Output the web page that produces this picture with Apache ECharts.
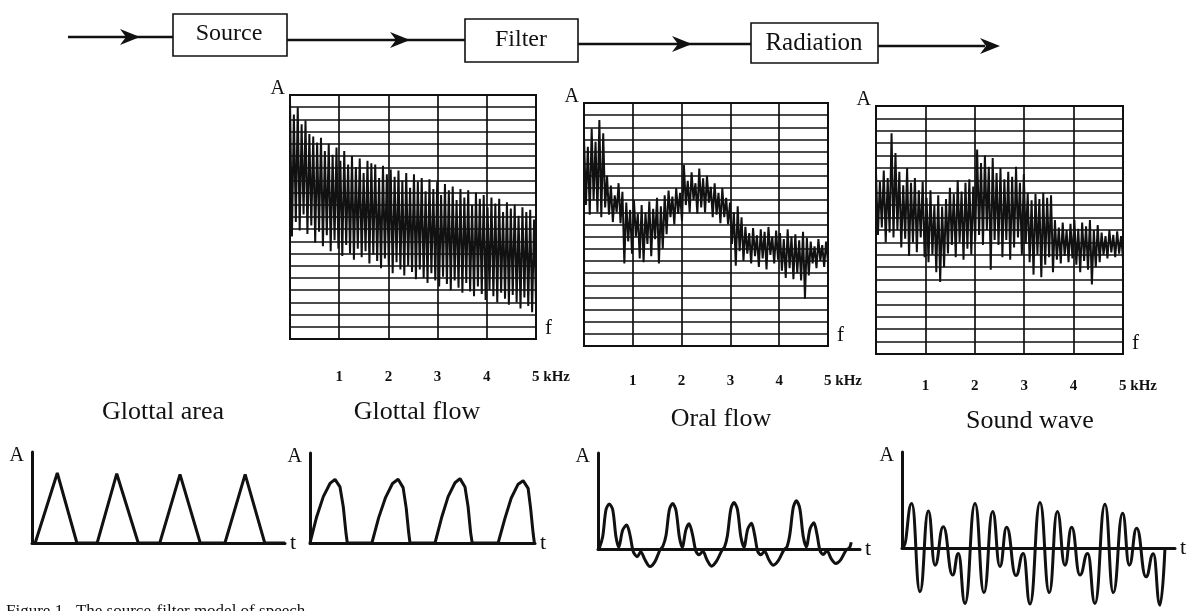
<!DOCTYPE html>
<html>
<head>
<meta charset="utf-8">
<script src="https://cdn.jsdelivr.net/npm/echarts@6/dist/echarts.min.js"></script>
<style>
html, body { margin: 0; padding: 0; background: #fff; }
#chart { width: 1196px; height: 611px; }
</style>
</head>
<body>
<div id="chart"></div>
<script>
// =====================================================
// DATA
// =====================================================

// spectra: rows above the bottom of each panel (grid has 20 rows), one peak + one dip per harmonic
const freqTicks = [1, 2, 3, 4, 5];

const sourcePeaks = [19.6, 18.4, 19.0, 17.6, 17.9, 16.8, 16.6, 16.1, 16.5, 15.4,
    16.0, 15.1, 15.7, 14.6, 15.4, 14.3, 15.0, 14.1, 14.8, 13.6,
    14.6, 14.4, 14.3, 13.2, 14.2, 13.5, 13.9, 13.3, 13.8, 13.0,
    13.6, 12.4, 13.5, 12.9, 13.2, 12.1, 13.1, 12.3, 12.9, 11.8,
    12.7, 12.2, 12.5, 11.4, 12.3, 11.6, 12.2, 11.0, 12.0, 11.5,
    11.8, 10.8, 11.6, 11.1, 11.5, 10.4, 11.2, 10.7, 11.0, 10.1,
    10.8, 10.4, 10.6, 9.8];
const sourceDips = [8.4, 9.6, 8.9, 10.2, 8.6, 9.3, 7.9, 8.8, 7.6, 8.5,
    7.2, 8.1, 7.4, 6.8, 7.7, 7.0, 6.5, 7.4, 6.7, 7.2,
    6.2, 6.9, 6.4, 5.8, 6.6, 6.0, 5.4, 6.3, 5.7, 5.2,
    6.0, 5.5, 4.9, 5.7, 5.0, 4.6, 5.4, 4.8, 4.3, 5.1,
    4.5, 4.0, 4.8, 4.2, 3.8, 4.6, 3.9, 3.5, 4.3, 3.7,
    3.2, 4.0, 3.5, 3.0, 3.8, 3.3, 2.8, 3.6, 3.0, 2.5,
    3.4, 2.7, 2.2, 3.0];

const filterPeaks = [17.2, 16.4, 17.9, 16.8, 18.6, 17.5,
    14.0, 13.2, 12.4, 13.4, 12.7,
    11.8, 11.2, 12.0, 10.9, 11.6, 11.0, 11.9, 11.3, 12.2, 11.5, 12.4,
    12.8, 12.3, 13.0, 12.6,
    14.9, 13.6, 14.3, 13.4, 14.6, 13.8, 14.0, 13.1,
    13.4, 12.6, 13.0, 12.2,
    11.8, 11.0, 11.5, 10.6,
    9.8, 9.3, 9.7, 9.1, 9.6, 9.4, 9.8, 9.0, 9.5,
    9.3, 8.8, 9.6, 9.0, 9.2, 8.7, 9.4, 8.9,
    8.6, 8.2, 8.8, 8.3, 8.6];
const filterDips = [11.6, 10.8, 12.0, 11.0, 10.6, 11.4,
    10.8, 10.2, 11.0, 10.1, 6.8,
    8.6, 7.6, 9.0, 7.2, 6.9, 8.4, 7.4, 8.8, 6.8, 8.0, 9.2,
    10.6, 10.0, 10.9, 10.3,
    11.6, 11.0, 12.0, 10.9, 11.4, 11.0, 11.8, 10.6,
    10.8, 10.1, 10.6, 10.0,
    8.4, 6.6, 7.8, 7.0,
    7.6, 6.8, 7.4, 6.5, 7.2, 6.3, 7.5, 6.8, 7.1,
    6.2, 5.6, 6.4, 5.5, 6.0, 5.4, 3.9, 5.8,
    6.8, 6.4, 7.0, 6.5, 6.9];

const radiationPeaks = [14.6, 13.9, 14.8, 14.2,
    17.8, 16.2,
    14.7, 13.6, 15.0, 13.8, 14.2, 13.2, 13.9,
    12.6, 13.2, 12.0, 12.8, 11.9, 12.5,
    13.4, 12.9, 14.0, 13.1, 13.8, 14.1, 13.5,
    16.5, 15.4, 16.0, 15.1, 15.8,
    14.6, 15.0, 14.1, 14.7, 14.3, 15.1, 13.8, 14.5,
    13.0, 12.4, 12.9, 12.5, 13.0, 12.6, 12.8,
    10.8, 10.2, 10.6, 10.0, 10.5,
    10.8, 10.1, 10.6, 10.3, 10.8, 10.0, 10.4,
    9.8, 9.5, 10.0, 9.6, 9.9, 9.5];
const radiationDips = [9.6, 10.2, 9.0, 9.8,
    9.4, 10.0,
    8.6, 9.3, 7.9, 9.0, 8.2, 9.4, 7.8,
    7.4, 8.0, 6.6, 5.8, 7.0, 8.1,
    8.8, 7.8, 9.0, 7.6, 8.5, 8.0, 9.1,
    9.6, 8.8, 10.0, 6.8, 9.2,
    8.8, 7.8, 9.2, 7.6, 8.6, 9.4, 8.0, 8.9,
    7.4, 6.4, 8.0, 6.2, 7.2, 7.8, 6.6,
    7.6, 7.3, 7.9, 7.4, 7.7,
    7.2, 6.6, 7.5, 6.8, 5.6, 7.0, 7.4,
    8.0, 7.7, 8.2, 7.8, 8.1, 7.7];

// time waveforms (t in tenths of a glottal period, A relative)
const areaT = [0, 0.5, 4.0, 7.1, 10.3, 13.4, 16.8, 20.2, 23.4, 26.6, 30.5, 33.7, 36.8, 40];
const areaA = [0, 0, 1.0, 0, 0, 0.99, 0, 0, 0.98, 0, 0, 0.98, 0, 0];

const flowT = [0, 1.07, 2.13, 3.2, 4.0, 4.8, 5.33, 5.76, 5.97,
    9.9, 11.0, 12.1, 13.2, 14.1, 14.9, 15.4, 15.8, 16.0,
    20.0, 21.1, 22.1, 23.2, 24.0, 24.8, 25.3, 25.7, 25.95,
    30.1, 31.2, 32.2, 33.3, 34.1, 34.9, 35.3, 35.7, 35.9, 36];
const flowA = [0, 0.38, 0.67, 0.86, 0.92, 0.81, 0.52, 0.14, 0,
    0, 0.37, 0.66, 0.86, 0.92, 0.8, 0.5, 0.14, 0,
    0, 0.38, 0.67, 0.87, 0.93, 0.81, 0.52, 0.15, 0,
    0, 0.36, 0.65, 0.85, 0.9, 0.79, 0.5, 0.14, 0, 0];

const oralT = [0, 0.21, 0.75, 1.28, 1.81, 2.36, 2.88, 3.32, 3.96, 4.6, 5.13, 5.66, 6.3, 6.84, 7.53, 8.33, 9.13, 9.94,
    10.4, 10.9, 11.45, 11.97, 12.5, 13.05, 13.5, 14.1, 14.6, 15.15, 15.7, 16.2, 16.8, 17.5, 18.2, 19.0, 19.9,
    20.3, 20.75, 21.3, 21.8, 22.35, 22.9, 23.4, 24.0, 24.6, 25.1, 25.6, 26.1, 26.7, 27.4, 28.1, 28.9, 29.8,
    30.3, 30.75, 31.3, 31.8, 32.35, 32.9, 33.4, 34.0, 34.6, 35.1, 35.6, 36.1, 36.7, 37.4, 38.1, 38.9, 39.8, 40.3, 40.6];
const oralA = [0, 0.02, 0.27, 0.87, 1.0, 0.87, 0.27, 0.04, 0.42, 0.53, 0.31, -0.06, -0.17, -0.06, -0.24, -0.39, -0.28, -0.02,
    0.06, 0.3, 0.88, 1.01, 0.86, 0.26, 0.04, 0.43, 0.56, 0.32, -0.05, -0.13, -0.05, -0.25, -0.38, -0.27, -0.02,
    0.05, 0.3, 0.89, 1.03, 0.88, 0.27, 0.04, 0.44, 0.57, 0.32, -0.05, -0.13, -0.05, -0.24, -0.36, -0.26, -0.02,
    0.05, 0.32, 0.92, 1.07, 0.9, 0.28, 0.05, 0.45, 0.58, 0.33, -0.04, -0.12, -0.04, -0.22, -0.32, -0.24, -0.02, 0.02, 0.15];

// sound wave: turning points only
const soundT = [0, 0.2, 1.53, 2.83, 4.15, 5.2, 6.5, 7.98, 8.87, 9.92,
    11.5, 12.91, 14.28, 15.43, 16.48, 17.95, 19.1, 20.16,
    21.73, 23.2, 24.46, 25.67, 26.72, 28.03, 29.24, 30.39,
    31.97, 33.28, 34.75, 35.8, 36.96, 38.43, 39.58, 40.63, 41.42];
const soundA = [0, 0.03, 0.99, -0.97, 0.82, -0.38, 0.47, -0.6, -0.12, -1.23,
    0.99, -0.99, 0.81, -0.41, 0.46, -0.61, -0.12, -1.24,
    1.01, -0.99, 0.81, -0.38, 0.46, -0.6, -0.12, -1.23,
    0.97, -0.99, 0.77, -0.38, 0.44, -0.64, -0.13, -1.27, 0];

// =====================================================
// HELPERS
// =====================================================

const SERIF = "'Liberation Serif', 'DejaVu Serif', serif";
const INK = '#111';

function interleave(peaks, dips) {
    const out = [];
    for (let i = 0; i < peaks.length; i++) {
        out.push(peaks[i]);
        if (i < dips.length) out.push(dips[i]);
    }
    return out;
}

function zip(t, a) {
    return t.map((v, i) => [v, a[i]]);
}

// =====================================================
// LAYOUT
// =====================================================

const spectra = [
    { left: 290, top: 95, width: 246, height: 244, peaks: sourcePeaks, dips: sourceDips, margin: 31 },
    { left: 584, top: 103, width: 244, height: 243, peaks: filterPeaks, dips: filterDips, margin: 28 },
    { left: 876, top: 106, width: 247, height: 248, peaks: radiationPeaks, dips: radiationDips, margin: 25 }
];

const waves = [
    { left: 32, top: 452, width: 253, height: 91, xmax: 40, ymax: 1.3, t: areaT, a: areaA, smooth: false, mono: null },
    { left: 310, top: 453, width: 225, height: 90, xmax: 36, ymax: 1.3, t: flowT, a: flowA, smooth: false, mono: null },
    { left: 598, top: 453, width: 262, height: 96, xmax: 42, ymax: 2.13, t: oralT, a: oralA, smooth: 0.3, mono: null },
    { left: 902, top: 452, width: 273, height: 96, xmax: 43, ymax: 2.13, t: soundT, a: soundA, smooth: 0.5, mono: 'x' }
];

const grid = [];
const xAxis = [];
const yAxis = [];
const series = [];

spectra.forEach((p, i) => {
    grid.push({
        left: p.left, top: p.top, width: p.width, height: p.height,
        show: true, borderColor: INK, borderWidth: 2, backgroundColor: 'transparent'
    });
    xAxis.push({
        type: 'value', gridIndex: i, min: 0, max: 5, interval: 1,
        axisLine: { show: true, lineStyle: { color: INK, width: 2 } },
        axisTick: { show: false },
        splitLine: { show: true, lineStyle: { color: INK, width: 1.7 } },
        axisLabel: {
            margin: p.margin, color: INK, fontFamily: SERIF, fontSize: 15, fontWeight: 'bold',
            formatter: v => (freqTicks.indexOf(v) < 0 ? '' : (v === 5 ? '{k|5 kHz}' : String(v))),
            rich: { k: { padding: [0, 0, 0, 30], color: INK, fontFamily: SERIF, fontSize: 15, fontWeight: 'bold' } }
        },
        name: 'f', nameLocation: 'end', nameGap: 9,
        nameTextStyle: { color: INK, fontFamily: SERIF, fontSize: 21, verticalAlign: 'bottom' }
    });
    yAxis.push({
        type: 'value', gridIndex: i, min: 0, max: 20, interval: 1,
        axisLine: { show: true, lineStyle: { color: INK, width: 2 } },
        axisTick: { show: false },
        axisLabel: { show: false },
        splitLine: { show: true, lineStyle: { color: INK, width: 1.7 } },
        name: 'A', nameLocation: 'end', nameGap: -4,
        nameTextStyle: { color: INK, fontFamily: SERIF, fontSize: 20, align: 'right', verticalAlign: 'bottom', padding: [0, 5, 0, 0] }
    });
});

// hidden category axes carry the harmonic-by-harmonic spectrum lines
spectra.forEach((p, i) => {
    const values = interleave(p.peaks, p.dips);
    xAxis.push({
        type: 'category', gridIndex: i, boundaryGap: false, show: false,
        data: values.map((_, k) => k)
    });
    series.push({
        type: 'line', xAxisIndex: 3 + i, yAxisIndex: i, data: values,
        showSymbol: false, silent: true,
        lineStyle: { color: INK, width: 2 }
    });
});

waves.forEach((w, i) => {
    const g = 3 + i;
    grid.push({ left: w.left, top: w.top, width: w.width, height: w.height });
    xAxis.push({
        type: 'value', gridIndex: g, min: 0, max: w.xmax,
        axisLine: { show: true, lineStyle: { color: INK, width: 3 } },
        axisTick: { show: false }, axisLabel: { show: false }, splitLine: { show: false },
        name: 't', nameLocation: 'end', nameGap: 5,
        nameTextStyle: { color: INK, fontFamily: SERIF, fontSize: 22, verticalAlign: 'middle' }
    });
    yAxis.push({
        type: 'value', gridIndex: g, min: 0, max: w.ymax,
        axisLine: { show: true, lineStyle: { color: INK, width: 3 } },
        axisTick: { show: false }, axisLabel: { show: false }, splitLine: { show: false },
        name: 'A', nameLocation: 'end', nameGap: -4,
        nameTextStyle: { color: INK, fontFamily: SERIF, fontSize: 20, align: 'right', verticalAlign: 'middle', padding: [0, 8, 0, 0] }
    });
    const s = {
        type: 'line', xAxisIndex: 6 + i, yAxisIndex: g, data: zip(w.t, w.a),
        showSymbol: false, silent: true, clip: false, smooth: w.smooth,
        lineStyle: { color: INK, width: 3 }
    };
    if (w.mono) s.smoothMonotone = w.mono;
    series.push(s);
});

// =====================================================
// BLOCK DIAGRAM + CAPTIONS
// =====================================================

function box(x, y, w, h) {
    return { type: 'rect', shape: { x: x, y: y, width: w, height: h }, style: { fill: '#fff', stroke: INK, lineWidth: 1.6 } };
}
function seg(x1, y1, x2, y2) {
    return { type: 'line', shape: { x1: x1, y1: y1, x2: x2, y2: y2 }, style: { stroke: INK, lineWidth: 2.6 } };
}
function dart(x, y) {
    return { type: 'polygon', shape: { points: [[x, y], [x - 20, y - 8], [x - 14, y], [x - 20, y + 8]] }, style: { fill: INK } };
}
function label(text, x, y, size) {
    return { type: 'text', style: { text: text, x: x, y: y, font: size + 'px ' + SERIF, fill: INK, textAlign: 'center', textVerticalAlign: 'middle' } };
}

const graphic = [
    seg(68, 37, 173, 37), dart(140, 37),
    seg(287, 40, 465, 40), dart(410, 40),
    seg(578, 44, 751, 44), dart(692, 44),
    seg(878, 46, 985, 46), dart(1000, 46),
    box(173, 14, 114, 42), label('Source', 229, 34, 24),
    box(465, 19, 113, 43), label('Filter', 521, 40, 24),
    box(751, 23, 127, 40), label('Radiation', 814, 43, 25),
    label('Glottal area', 163, 412, 26),
    label('Glottal flow', 417, 412, 26),
    label('Oral flow', 721, 419, 26),
    label('Sound wave', 1030, 421, 26),
    { type: 'text', style: { text: 'Figure 1.  The source-filter model of speech', x: 6, y: 603, font: '17px ' + SERIF, fill: INK, textAlign: 'left', textVerticalAlign: 'top' } }
];

const chart = echarts.init(document.getElementById('chart'));
chart.setOption({
    backgroundColor: '#fff',
    animation: false,
    grid: grid,
    xAxis: xAxis,
    yAxis: yAxis,
    series: series,
    graphic: graphic
});
</script>
</body>
</html>
